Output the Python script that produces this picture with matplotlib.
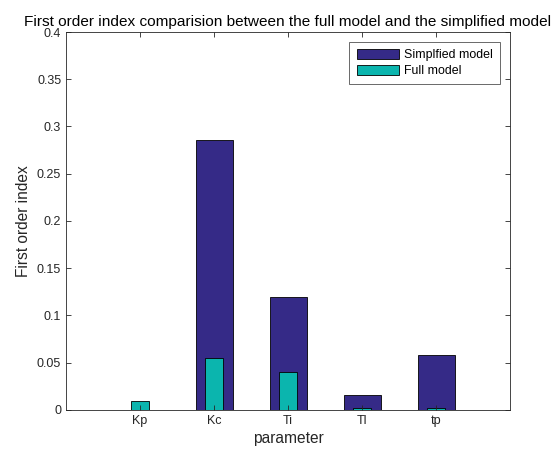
import matplotlib

matplotlib.use("Agg")
import matplotlib.pyplot as plt
import numpy as np

params = ["Kp", "Kc", "Ti", "Tl", "tp"]
simplified = [0.0, 0.286, 0.120, 0.0155, 0.058]
full = [0.0092, 0.055, 0.0405, 0.0025, 0.0025]

DARK = "#352a87"
CYAN = "#0bb5ae"

plt.rcParams.update({
    "font.family": ["Liberation Sans", "DejaVu Sans"],
    "axes.linewidth": 0.6,
    "axes.edgecolor": "#262626",
    "xtick.direction": "in", "ytick.direction": "in",
    "xtick.top": True, "ytick.right": True,
    "xtick.major.size": 3.5, "ytick.major.size": 3.5,
    "xtick.major.width": 0.6, "ytick.major.width": 0.6,
    "xtick.color": "#262626", "ytick.color": "#262626",
})

fig = plt.figure(figsize=(5.55, 4.54), dpi=100, facecolor="white")
ax = fig.add_axes([0.119, 0.097, 0.8, 0.8325])

x = np.arange(1, len(params) + 1)
ax.bar(x, simplified, 0.5, color=DARK, edgecolor="black", lw=0.6, label="Simplfied model")
ax.bar(x, full, 0.25, color=CYAN, edgecolor="black", lw=0.6, label="Full model")

ax.set_xlim(0, 6)
ax.set_ylim(0, 0.4)
ax.set_xticks(x)
ax.set_xticklabels(params)
ax.set_yticks(np.arange(0, 0.401, 0.05))
ax.set_yticklabels(["0", "0.05", "0.1", "0.15", "0.2", "0.25", "0.3", "0.35", "0.4"])
ax.tick_params(labelsize=9, colors="#262626")
ax.set_xlabel("parameter", fontsize=11.2, color="#262626", labelpad=3)
ax.set_ylabel("First order index", fontsize=11.2, color="#262626", labelpad=4)
ax.set_title("First order index comparision between the full model and the simplified model",
             fontsize=11.1, color="black", pad=4.5)

leg = ax.legend(loc="upper right", fontsize=8.9, frameon=True, fancybox=False,
                edgecolor="#262626", handlelength=3.4, handleheight=0.8,
                borderaxespad=0.8, borderpad=0.6, handletextpad=0.4, labelspacing=0.3)
leg.get_frame().set_linewidth(0.6)

fig.savefig("out.png", dpi=100, facecolor="white")
